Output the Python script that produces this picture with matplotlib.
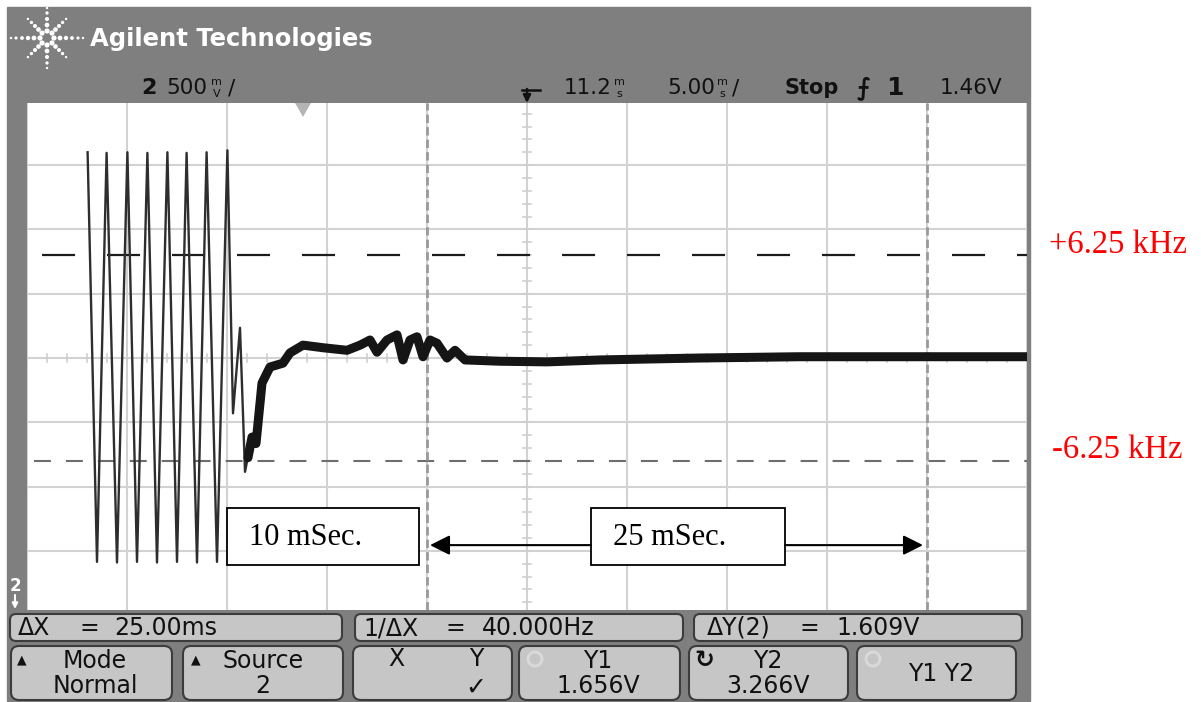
import numpy as np
import matplotlib
matplotlib.use('Agg')
import matplotlib.pyplot as plt
from matplotlib.patches import FancyBboxPatch, Rectangle, Polygon

plt.rcParams['lines.scale_dashes'] = False

# trace: time in ms (5 ms/div), level in divisions (500 mV/div)
osc_t = [3.03, 3.5, 3.98, 4.5, 5.02, 5.5, 6.02, 6.5, 7.02, 7.5, 7.98, 8.5,
         8.98, 9.5, 10.02, 10.3, 10.65, 10.9, 11.1]
osc_v = [3.20, -3.17, 3.19, -3.18, 3.20, -3.17, 3.19, -3.18, 3.20, -3.17,
         3.19, -3.18, 3.20, -3.17, 3.23, -0.86, 0.47, -1.77, -1.45]

settle_t = [11.05, 11.25, 11.45, 11.75, 12.15, 12.8, 13.15, 13.8, 14.8, 16.0,
            16.65, 17.15, 17.5, 18.0, 18.5, 18.8, 19.15, 19.5, 19.8, 20.15,
            20.5, 21.0, 21.4, 21.9, 23.65, 26.0, 28.65, 33.65, 38.65, 50.0]
settle_v = [-1.55, -1.23, -1.33, -0.39, -0.14, -0.08, 0.08, 0.20, 0.16, 0.12,
            0.20, 0.28, 0.09, 0.28, 0.36, -0.03, 0.28, 0.33, 0.02, 0.28,
            0.23, 0.0, 0.12, -0.03, -0.05, -0.06, -0.03, 0.0, 0.02, 0.02]

cursor_t = [20.0, 45.0]          # X1, X2 cursors
limit_v = [1.6, -1.6]            # +/-6.25 kHz deviation
limit_lbl = ['+6.25 kHz', '-6.25 kHz']
span_lbl = ['10 mSec.', '25 mSec.']

# measurement line, split in pieces as the scope spaces them
meas_parts = [('\u0394X', 18), ('=', 80), ('25.00ms', 114),
              ('1/\u0394X', 363), ('=', 446), ('40.000Hz', 482),
              ('\u0394Y(2)', 707), ('=', 799), ('1.609V', 836)]
key_top = ['Mode', 'Source', '', 'Y1', 'Y2', 'Y1 Y2']
key_bot = ['Normal', '2', '', '1.656V', '3.266V', '']

W, H = 1201, 702
fig = plt.figure(figsize=(W / 100, H / 100), dpi=100)

# pixel overlay for the scope frame
bg = fig.add_axes([0, 0, 1, 1])
bg.set_xlim(0, W)
bg.set_ylim(H, 0)
bg.axis('off')
bg.add_patch(Rectangle((7, 7), 1023, 694, color='#7f7f7f', zorder=0))

# logo
cx, cy = 47, 38
for k in range(8):
    a = k * np.pi / 4
    if k % 4 == 0:
        r = np.array([7, 13, 19, 25, 31, 36])
    elif k % 2 == 0:
        r = np.array([7, 13, 19, 25, 30])
    else:
        r = np.array([7, 12, 17, 22, 27])
    bg.scatter(cx + r * np.cos(a), cy + r * np.sin(a), s=np.linspace(14, 3, len(r)),
               color='white', lw=0, zorder=2)
bg.text(90, 39, 'Agilent Technologies', color='white', fontsize=17.5,
        fontweight='bold', va='center', ha='left')

# status line
st = dict(va='center', color='#111111')
bg.text(141, 88, '2', fontsize=16, fontweight='bold', **st)
bg.text(166, 88, '500', fontsize=15.5, **st)
bg.text(211, 82, 'm', fontsize=8, **st)
bg.text(213, 94, 'V', fontsize=8, **st)
bg.text(228, 88, '/', fontsize=15.5, **st)
bg.plot([522, 540], [90, 90], color='#111111', lw=1.8)
bg.annotate('', xy=(527, 103), xytext=(527, 89),
            arrowprops=dict(arrowstyle='-|>', color='#111111', lw=1.8,
                            mutation_scale=11, shrinkA=0, shrinkB=0))
bg.text(564, 88, '11.2', fontsize=15.5, **st)
bg.text(614, 82, 'm', fontsize=8, **st)
bg.text(616, 94, 's', fontsize=8, **st)
bg.text(667, 88, '5.00', fontsize=15.5, **st)
bg.text(717, 82, 'm', fontsize=8, **st)
bg.text(719, 94, 's', fontsize=8, **st)
bg.text(732, 88, '/', fontsize=15.5, **st)
bg.text(785, 88, 'Stop', fontsize=15, fontweight='bold', **st)
bg.text(857, 88, '\u2A0D', fontsize=17, fontweight='bold', **st)
bg.text(886, 88, '1', fontsize=18, fontweight='bold', **st)
bg.text(940, 88, '1.46V', fontsize=15.5, **st)

# channel marker
bg.text(15, 586, '2', color='white', fontsize=12, fontweight='bold', ha='center', va='center')
bg.annotate('', xy=(15, 609), xytext=(15, 595),
            arrowprops=dict(arrowstyle='-|>', color='white', lw=1.5,
                            mutation_scale=8, shrinkA=0, shrinkB=0))

# measurement line
meas_x = [(10, 342), (355, 683), (694, 1022)]
for x0, x1 in meas_x:
    bg.add_patch(FancyBboxPatch((x0, 614), x1 - x0, 27,
                                boxstyle='round,pad=0,rounding_size=6',
                                fc='#c6c6c6', ec='#3c3c3c', lw=1.5, zorder=2))
for s, x in meas_parts:
    bg.text(x, 628, s, fontsize=17, va='center', color='#111111', zorder=3)

# softkeys
key_x = [(11, 172), (183, 343), (353, 512), (519, 680), (689, 848), (857, 1016)]
key_cx = [95, 263, 432, 598, 768, 941]
for (x0, x1), xm, t1, t2 in zip(key_x, key_cx, key_top, key_bot):
    bg.add_patch(FancyBboxPatch((x0, 646), x1 - x0, 54,
                                boxstyle='round,pad=0,rounding_size=8',
                                fc='#c6c6c6', ec='#3c3c3c', lw=1.5, zorder=2))
    if t2 == '' and t1:
        bg.text(xm, 674, t1, fontsize=17, ha='center', va='center', color='#111111', zorder=3)
    else:
        bg.text(xm, 661, t1, fontsize=17, ha='center', va='center', color='#111111', zorder=3)
        bg.text(xm, 686, t2, fontsize=17, ha='center', va='center', color='#111111', zorder=3)
for x0 in (22, 196):
    bg.text(x0, 660, '\u25B2', fontsize=9, ha='center', va='center', color='#111111', zorder=3)
bg.text(396, 659, 'X', fontsize=17, ha='center', va='center', color='#111111', zorder=3)
bg.text(476, 659, 'Y', fontsize=17, ha='center', va='center', color='#111111', zorder=3)
bg.text(476, 688, '\u2713', fontsize=18, ha='center', va='center', color='#111111', zorder=3)
bg.text(704, 660, '\u21BB', fontsize=17, fontweight='bold', ha='center', va='center',
        color='#111111', zorder=3)
for x0 in (535, 873):
    bg.add_patch(plt.Circle((x0, 659), 7, fc='none', ec='#dadada', lw=2, zorder=3))

# red labels
for x, y, s in zip((1049, 1052), (245, 450), limit_lbl):
    bg.text(x, y, s, color='red', fontsize=23.5, family='Liberation Serif',
            va='center', ha='left')

# graticule
ax = fig.add_axes([27 / W, 1 - 610 / H, 1000 / W, 507 / H])
ax.set_xlim(0, 50)
ax.set_ylim(-3.919, 3.966)
ax.set_facecolor('white')
for s in ax.spines.values():
    s.set_visible(False)
ax.set_xticks(np.arange(0, 51, 5))
ax.set_yticks(np.arange(-3, 4, 1))
ax.tick_params(length=0, labelbottom=False, labelleft=False)
ax.grid(True, color='#d2d2d2', lw=1.5)
ax.set_axisbelow(True)
for t in np.arange(0, 50, 1.0):
    ax.plot([t, t], [-0.06, 0.06], color='#cfcfcf', lw=1.2, zorder=1)
for v in np.arange(-3.8, 4.0, 0.2):
    ax.plot([24.8, 25.2], [v, v], color='#cfcfcf', lw=1.2, zorder=1)

# limit lines
ax.axhline(limit_v[0], color='#1c1c1c', lw=1.6, ls=(36, (23.8, 23.0)), zorder=2)
ax.axhline(limit_v[1], color='#6e6e6e', lw=1.5, ls=(18, (12.2, 10.8)), zorder=2)

# cursors
for t in cursor_t:
    ax.axvline(t, color='#9a9a9a', lw=2.0, ls=(0, (6, 3)), zorder=2)

# time reference mark
ax.add_patch(Polygon([[13.4, 3.966], [14.2, 3.966], [13.8, 3.75]], closed=True,
                     fc='#b4b4b4', ec='none', zorder=3, clip_on=False))

# trace
ax.plot(osc_t, osc_v, color='#2e2e2e', lw=1.7, zorder=4)
ax.plot(settle_t, settle_v, color='#151515', lw=6.5, solid_joinstyle='round',
        solid_capstyle='round', zorder=4)

# span annotations
boxes = [(10.0, 19.6), (28.2, 37.9)]
for (t0, t1), s in zip(boxes, span_lbl):
    ax.add_patch(Rectangle((t0, -3.22), t1 - t0, 0.89, fc='white', ec='black', lw=1.3, zorder=5))
    ax.text(t0 + 1.1, -2.79, s, fontsize=22, family='Liberation Serif',
            va='center', ha='left', zorder=6)
ax.annotate('', xy=(cursor_t[0] + 0.15, -2.91), xytext=(boxes[1][0], -2.91),
            arrowprops=dict(arrowstyle='-|>', color='black', lw=1.5,
                            mutation_scale=30, shrinkA=0, shrinkB=0), zorder=5)
ax.annotate('', xy=(cursor_t[1] - 0.2, -2.91), xytext=(boxes[1][1], -2.91),
            arrowprops=dict(arrowstyle='-|>', color='black', lw=1.5,
                            mutation_scale=30, shrinkA=0, shrinkB=0), zorder=5)

fig.savefig('out.png', dpi=100)
